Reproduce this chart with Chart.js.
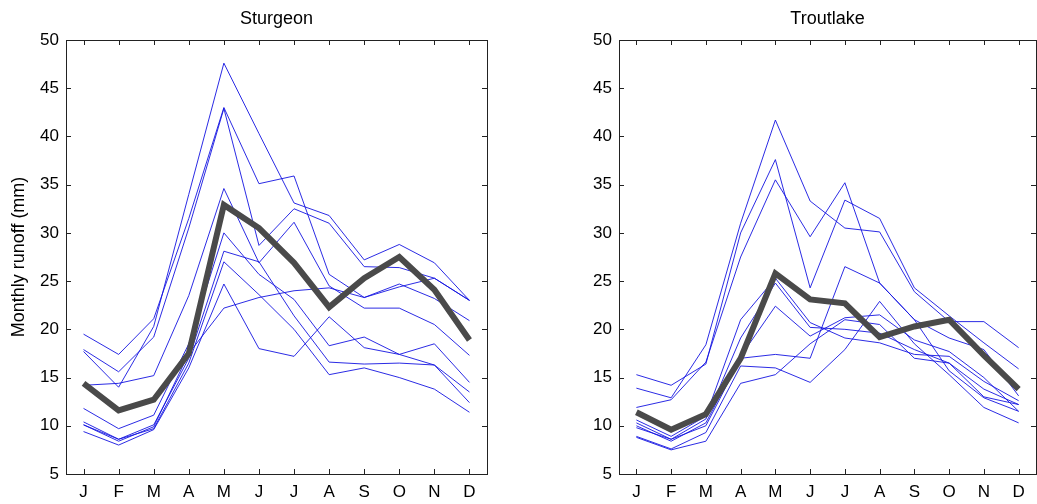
<!DOCTYPE html>
<html>
<head>
<meta charset="utf-8">
<script src="https://cdn.jsdelivr.net/npm/chart.js@4.4.1/dist/chart.umd.min.js"></script>
<style>
  body { margin: 0; background: #fff; }
  #wrap { position: relative; width: 1037px; height: 504px; }
  canvas { position: absolute; top: 0; }
  #sturgeonChart { left: 0; }
  #troutlakeChart { left: 519px; }
</style>
</head>
<body>
<div id="wrap">
  <canvas id="sturgeonChart" width="520" height="504"></canvas>
  <canvas id="troutlakeChart" width="518" height="504"></canvas>
</div>
<script>
// month labels + y ticks
const months = ['J', 'F', 'M', 'A', 'M', 'J', 'J', 'A', 'S', 'O', 'N', 'D'];
const yTicks = [5, 10, 15, 20, 25, 30, 35, 40, 45, 50];

// Sturgeon - individual runs (blue) and mean (thick grey)
const sturgeonRuns = [
  [17.7, 14.0, 20.3, 34.0, 47.6, 40.3, 33.1, 31.8, 27.2, 28.8, 26.9, 23.0],
  [19.5, 17.4, 21.1, 31.5, 43.0, 35.1, 35.9, 25.7, 23.3, 24.7, 23.2, 20.9],
  [17.9, 15.6, 19.2, 30.5, 42.9, 28.7, 32.5, 31.0, 26.5, 26.4, 25.3, 23.0],
  [14.2, 14.4, 15.2, 23.5, 34.6, 26.9, 31.1, 24.5, 22.2, 22.2, 20.5, 17.3],
  [11.8, 9.7, 11.1, 18.5, 30.0, 25.7, 23.1, 18.3, 19.2, 17.4, 16.3, 13.5],
  [10.4, 8.6, 10.1, 17.0, 28.1, 27.0, 21.4, 16.6, 16.4, 16.5, 16.3, 12.4],
  [10.1, 8.6, 9.7, 16.5, 27.0, 23.6, 20.0, 15.3, 16.0, 15.0, 13.8, 11.4],
  [9.4, 8.0, 9.6, 16.0, 24.7, 18.0, 17.2, 21.3, 18.1, 17.4, 18.5, 14.5],
  [10.1, 8.4, 9.9, 17.5, 22.2, 23.3, 24.0, 24.3, 23.3, 24.4, 25.3, 23.0]
];
const sturgeonMean = [14.4, 11.6, 12.7, 17.5, 32.9, 30.5, 26.9, 22.3, 25.3, 27.5, 24.1, 18.9];

// Troutlake
const troutlakeRuns = [
  [13.9, 12.9, 18.4, 31.0, 41.7, 33.3, 30.5, 30.1, 23.9, 20.8, 20.8, 18.1],
  [15.3, 14.2, 16.4, 30.0, 37.6, 24.3, 33.4, 31.5, 24.3, 21.4, 18.6, 15.9],
  [11.9, 12.7, 16.6, 27.5, 35.5, 29.6, 35.2, 24.8, 21.0, 19.1, 17.9, 13.1],
  [10.6, 8.9, 11.0, 21.0, 25.3, 20.7, 19.1, 18.6, 17.4, 17.2, 14.6, 12.6],
  [10.3, 8.6, 10.7, 19.1, 24.8, 20.2, 20.0, 19.6, 17.9, 16.5, 13.8, 12.2],
  [10.0, 8.4, 10.3, 17.2, 22.4, 19.3, 21.2, 21.5, 18.9, 17.7, 15.0, 11.5],
  [9.8, 8.6, 10.0, 17.0, 17.4, 17.0, 26.5, 24.8, 21.0, 15.7, 12.9, 11.5],
  [8.9, 7.6, 9.3, 16.2, 16.0, 14.5, 17.9, 22.9, 18.5, 15.3, 11.9, 10.3],
  [8.8, 7.5, 8.4, 14.4, 15.3, 18.5, 21.0, 20.5, 17.0, 16.5, 13.0, 12.2]
];
const troutlakeMean = [11.4, 9.6, 11.2, 17.0, 25.8, 23.1, 22.7, 19.2, 20.3, 21.0, 17.3, 13.8];

const fontFamily = '"Liberation Sans", Arial, Helvetica, sans-serif';

// matlab-like box with inward ticks on all four sides, plus title
const matlabBox = {
  id: 'matlabBox',
  afterDraw(chart, args, opts) {
    const { ctx, chartArea: a, scales: { x, y } } = chart;
    const t = 5;
    ctx.save();
    ctx.strokeStyle = '#222';
    ctx.lineWidth = 1;
    ctx.strokeRect(a.left + 0.5, a.top + 0.5, a.right - a.left, a.bottom - a.top);
    ctx.beginPath();
    months.forEach((m, i) => {
      const px = Math.round(x.getPixelForValue(i)) + 0.5;
      ctx.moveTo(px, a.bottom); ctx.lineTo(px, a.bottom - t);
      ctx.moveTo(px, a.top); ctx.lineTo(px, a.top + t);
    });
    yTicks.forEach(v => {
      const py = Math.round(y.getPixelForValue(v)) + 0.5;
      ctx.moveTo(a.left, py); ctx.lineTo(a.left + t, py);
      ctx.moveTo(a.right, py); ctx.lineTo(a.right - t, py);
    });
    ctx.stroke();
    ctx.fillStyle = '#000';
    ctx.font = '18px ' + fontFamily;
    ctx.textAlign = 'center';
    ctx.textBaseline = 'middle';
    ctx.fillText(opts.text, (a.left + a.right) / 2, 19);
    ctx.restore();
  }
};

function makeChart(id, title, runs, mean, yWidth, padRight, showYTitle) {
  const datasets = [{
    data: mean, borderColor: '#4a4a4a', borderWidth: 6, pointRadius: 0
  }];
  runs.forEach(r => datasets.push({
    data: r, borderColor: 'rgba(20, 20, 225, 0.9)', borderWidth: 1, pointRadius: 0
  }));

  return new Chart(document.getElementById(id), {
    type: 'line',
    data: { labels: months, datasets: datasets },
    options: {
      responsive: false,
      animation: false,
      layout: { padding: { top: 40, right: padRight, bottom: 0, left: 0 } },
      plugins: {
        legend: { display: false },
        tooltip: { enabled: false },
        matlabBox: { text: title }
      },
      scales: {
        x: {
          offset: true,
          grid: { display: false, drawTicks: false },
          border: { display: false },
          ticks: { color: '#000', padding: 8, maxRotation: 0, autoSkip: false, font: { size: 17, family: fontFamily } },
          afterFit: s => { s.height = 30; }
        },
        y: {
          min: 5,
          max: 50,
          grid: { display: false, drawTicks: false },
          border: { display: false },
          ticks: { stepSize: 5, color: '#000', padding: 7, font: { size: 17, family: fontFamily } },
          title: {
            display: showYTitle,
            text: 'Monthly runoff (mm)',
            color: '#000',
            padding: { top: 8, bottom: 0 },
            font: { size: 18, family: fontFamily }
          },
          afterFit: s => { s.width = yWidth; }
        }
      }
    },
    plugins: [matlabBox]
  });
}

makeChart('sturgeonChart', 'Sturgeon', sturgeonRuns, sturgeonMean, 66, 33, true);
makeChart('troutlakeChart', 'Troutlake', troutlakeRuns, troutlakeMean, 100, 1, false);
</script>
</body>
</html>
